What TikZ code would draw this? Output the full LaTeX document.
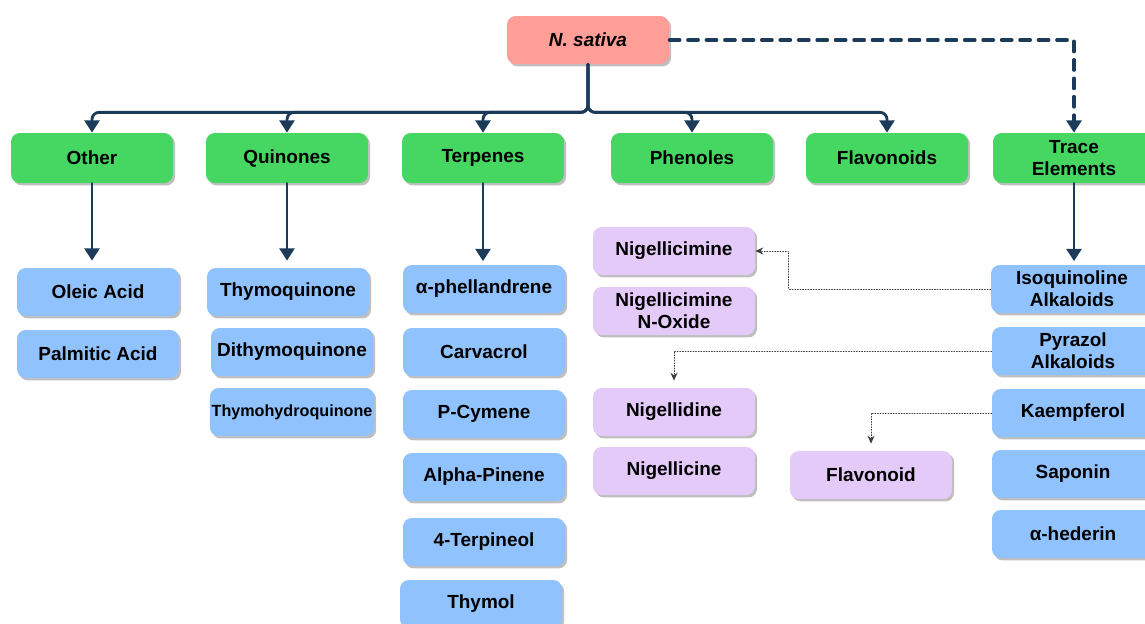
\documentclass[tikz,border=0pt]{standalone}
\usepackage{fontspec}
\setmainfont{Liberation Sans}
\usepackage{xcolor}
\usetikzlibrary{arrows.meta}
\usetikzlibrary{shadows}

\definecolor{rootred}{HTML}{FF9E97}
\definecolor{groupgreen}{HTML}{45D761}
\definecolor{itemblue}{HTML}{90C2FE}
\definecolor{itempurple}{HTML}{E4CAF8}
\definecolor{linknavy}{HTML}{1C3A5A}

\begin{document}
\begin{tikzpicture}[line cap=round, line join=round, x=0.02cm, y=-0.02cm,
  box/.style={rectangle, rounded corners=5pt, minimum width=3.24cm, minimum height=0.96cm,
    align=center, inner sep=1pt, font=\fontsize{10.8}{12.5}\selectfont\bfseries,
    drop shadow={shadow xshift=1.2pt, shadow yshift=-1.4pt, fill=black!50, opacity=.5}},
  rootbox/.style={box, fill=rootred},
  groupbox/.style={box, fill=groupgreen, minimum height=1cm},
  bluebox/.style={box, fill=itemblue},
  purplebox/.style={box, fill=itempurple},
  link/.style={draw=linknavy, line width=1.6pt, -{Triangle[width=8.5pt,length=7pt]}},
  dashlink/.style={link, line width=1.8pt, dash pattern=on 6pt off 4.5pt},
  hint/.style={draw=black!75, line width=0.5pt, densely dotted, -{Stealth[length=4.5pt,width=4pt]}}]
  \useasboundingbox (0,0) rectangle (1145,623);
  \clip (0,0) rectangle (1145,623);

  % top
  \node[rootbox] (nsat) at (588,40) {\itshape N. sativa};

  % groups
  \node[groupbox] (other) at (92,158) {Other};
  \node[groupbox] (quin) at (287,158) {Quinones};
  \node[groupbox] (terp) at (483,158) {Terpenes};
  \node[groupbox] (phen) at (692,158) {Phenoles};
  \node[groupbox] (flav) at (887,158) {Flavonoids};
  \node[groupbox] (trace) at (1074,158) {Trace\\Elements};

  % other
  \node[bluebox] (oleic) at (98,292) {Oleic Acid};
  \node[bluebox] (palm) at (98,354) {Palmitic Acid};

  % quinones
  \node[bluebox] (tq) at (288,292) {Thymoquinone};
  \node[bluebox] (dtq) at (292,352) {Dithymoquinone};
  \node[bluebox, font=\fontsize{9.2}{11}\selectfont\bfseries] (thq) at (292,412) {Thymohydroquinone};

  % terpenes
  \node[bluebox] (phel) at (484,289) {α-phellandrene};
  \node[bluebox] (carv) at (484,352) {Carvacrol};
  \node[bluebox] (pcym) at (484,414) {P-Cymene};
  \node[bluebox] (apin) at (484,477) {Alpha-Pinene};
  \node[bluebox] (terpol) at (484,542) {4-Terpineol};
  \node[bluebox] (thym) at (481,604) {Thymol};

  % alkaloids
  \node[purplebox] (nigcim) at (674,251) {Nigellicimine};
  \node[purplebox] (nigox) at (674,311) {Nigellicimine\\N-Oxide};
  \node[purplebox] (nigdin) at (674,412) {Nigellidine};
  \node[purplebox] (nigcin) at (674,471) {Nigellicine};
  \node[purplebox] (flavd) at (871,475) {Flavonoid};

  % trace elements
  \node[bluebox] (isoq) at (1072,289) {Isoquinoline\\Alkaloids};
  \node[bluebox] (pyraz) at (1073,351) {Pyrazol\\Alkaloids};
  \node[bluebox] (kaemp) at (1073,413) {Kaempferol};
  \node[bluebox] (sapo) at (1073,474) {Saponin};
  \node[bluebox] (hede) at (1073,534) {α-hederin};

  % connectors
  \foreach \g in {other,quin,terp,phen,flav}
    \draw[link, rounded corners=4pt] (nsat.south) -- ++(0,48) -| (\g.north);
  \draw[dashlink] (nsat.east) -| (trace.north);

  \draw[link, shorten >=4pt] (other.south) -- (other.south |- oleic.north);
  \draw[link, shorten >=4pt] (quin.south) -- (quin.south |- tq.north);
  \draw[link, shorten >=2pt] (terp.south) -- (terp.south |- phel.north);
  \draw[link, shorten >=2pt] (trace.south) -- (trace.south |- isoq.north);

  \draw[hint] (isoq.west) -- ++(-202,0) |- (nigcim.east);
  \draw[hint, shorten >=4pt] (pyraz.west) -| (nigdin.north);
  \draw[hint, shorten >=4pt] (kaemp.west) -| (flavd.north);
\end{tikzpicture}
\end{document}
